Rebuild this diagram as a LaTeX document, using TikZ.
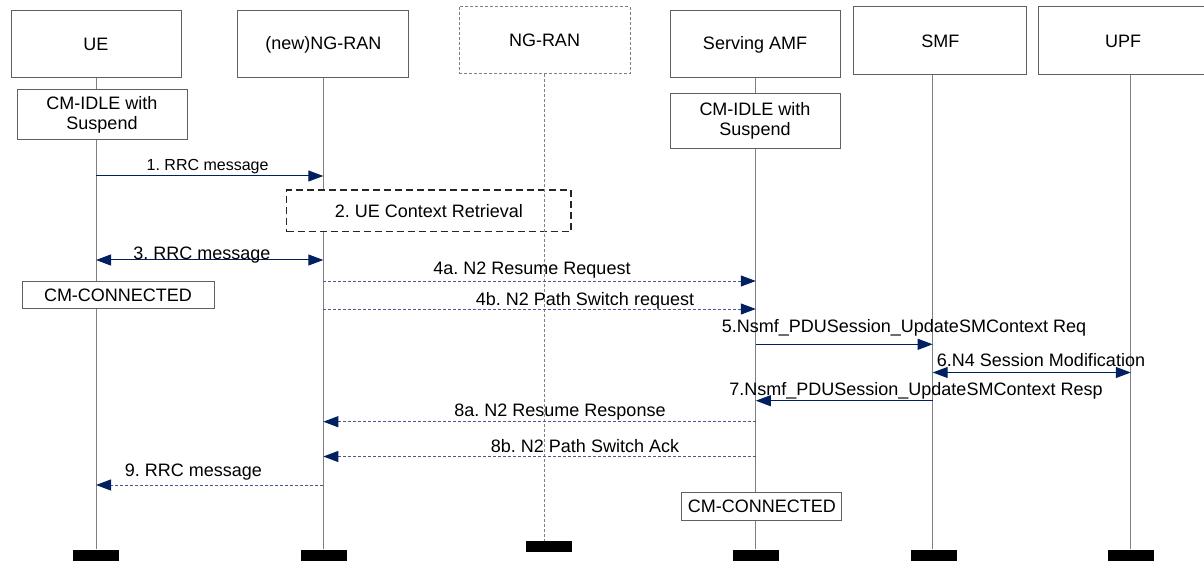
\documentclass[tikz,border=0pt]{standalone}
\usepackage{fontspec}
\setmainfont{Liberation Sans}
\usetikzlibrary{arrows.meta}
\definecolor{navy}{RGB}{0,32,96}
\definecolor{dnavy}{RGB}{70,90,140}
\definecolor{lgray}{RGB}{128,128,128}
\definecolor{bgray}{RGB}{96,96,96}
\frenchspacing
\begin{document}
\begin{tikzpicture}[x=1pt,y=-1pt,
  ent/.style={draw=bgray, line width=1pt, fill=white, inner sep=0pt, align=center,
    font=\fontsize{18}{20}\selectfont},
  life/.style={draw=lgray, line width=1pt},
  bar/.style={fill=black, inner sep=0pt, minimum width=46pt, minimum height=12pt},
  msg/.style={draw=navy, line width=1pt, -{Triangle[length=15pt,width=11pt]}},
  dmsg/.style={draw=dnavy, line width=1pt, dash pattern=on 3pt off 2pt, -{Triangle[length=15pt,width=11pt,color=navy]}},
  bmsg/.style={draw=navy, line width=1pt, {Triangle[length=15pt,width=11pt]}-{Triangle[length=15pt,width=11pt]}},
  lbl/.style={inner sep=0pt, anchor=base, font=\fontsize{18}{20}\selectfont}]
\useasboundingbox (0,0) rectangle (1204,561);
\clip (0,0) rectangle (1204,561);

% lifeline x positions
\coordinate (LUE) at (96,0);
\coordinate (LRAN) at (323.3,0);
\coordinate (LNG) at (544.5,0);
\coordinate (LAMF) at (755.8,0);
\coordinate (LSMF) at (932.7,0);
\coordinate (LUPF) at (1130.8,0);

% bottom bars
\node[bar] (bUE) at (96,555.5) {};
\node[bar] (bRAN) at (323.7,555.5) {};
\node[bar, minimum height=11.3pt] (bNG) at (549,546.7) {};
\node[bar] (bAMF) at (755.8,555.5) {};
\node[bar] (bSMF) at (933.5,555.5) {};
\node[bar] (bUPF) at (1131,555.5) {};

% header boxes
\node[ent, minimum width=170pt, minimum height=67pt] (UE) at (96,44.5) {UE};
\node[ent, minimum width=170.7pt, minimum height=67pt] (RAN) at (323.3,44.5) {(new)NG-RAN};
\node[ent, draw=lgray, dash pattern=on 3pt off 2pt, minimum width=171pt, minimum height=67.3pt] (NG) at (544.5,40.3) {NG-RAN};
\node[ent, minimum width=170pt, minimum height=67pt] (AMF) at (755,44.5) {Serving AMF};
\node[ent, minimum width=172.7pt, minimum height=68pt] (SMF) at (940.3,41) {SMF};
\node[ent, minimum width=170pt, minimum height=68pt] (UPF) at (1123,41) {UPF};

% lifelines
\draw[life] (LUE |- UE.south) -- (LUE |- bUE.north);
\draw[life] (LRAN |- RAN.south) -- (LRAN |- bRAN.north);
\draw[life] (LAMF |- AMF.south) -- (LAMF |- bAMF.north);
\draw[life] (LSMF |- SMF.south) -- (LSMF |- bSMF.north);
\draw[life] (LUPF |- UPF.south) -- (LUPF |- bUPF.north);

% state boxes
\node[ent, minimum width=170pt, minimum height=50pt] (idleUE) at (102,115) {CM-IDLE with\\Suspend};
\node[ent, minimum width=170pt, minimum height=55pt] (idleAMF) at (755,120.8) {CM-IDLE with\\Suspend};
\node[ent, minimum width=192pt, minimum height=27.5pt] (connUE) at (118,295.2) {CM-CONNECTED};
\node[ent, minimum width=160.3pt, minimum height=27.7pt] (connAMF) at (761.8,506.2) {CM-CONNECTED};

% step 2 box
\node[ent, draw=black!85, line width=1.5pt, dash pattern=on 7pt off 4pt, minimum width=284.3pt, minimum height=41.7pt] (ctx) at (428.8,210.8) {2. UE Context Retrieval};

% NG-RAN dashed lifeline
\draw[life, dash pattern=on 3pt off 2pt] (LNG |- NG.south) -- (LNG |- bNG.north);

% messages
\draw[msg] (LUE |- 0,176) -- (LRAN |- 0,176);
\node[lbl, font=\fontsize{16}{18}\selectfont] (m1) at (207.6,171) {1. RRC message};

\draw[bmsg] (LUE |- 0,260) -- (LRAN |- 0,260);
\node[lbl] (m3) at (202,259.5) {3. RRC message};

\draw[dmsg] (LRAN |- 0,281) -- (LAMF |- 0,281);
\node[lbl] (m4a) at (532,274.5) {4a. N2 Resume Request};

\draw[dmsg] (LRAN |- 0,309) -- (LAMF |- 0,309);
\node[lbl] (m4b) at (585,305.5) {4b. N2 Path Switch request};

\draw[msg] (LAMF |- 0,344.3) -- (LSMF |- 0,344.3);
\node[lbl] (m5) at (904,332.5) {5.Nsmf\_PDUSession\_UpdateSMContext Req};

\draw[bmsg] (LSMF |- 0,372.5) -- (LUPF |- 0,372.5);
\node[lbl] (m6) at (1041,366.5) {6.N4 Session Modification};

\draw[msg] (LSMF |- 0,400.7) -- (LAMF |- 0,400.7);
\node[lbl] (m7) at (916,395.5) {7.Nsmf\_PDUSession\_UpdateSMContext Resp};

\draw[dmsg] (LAMF |- 0,421.7) -- (LRAN |- 0,421.7);
\node[lbl] (m8a) at (560,416.5) {8a. N2 Resume Response};

\draw[dmsg] (LAMF |- 0,456.5) -- (LRAN |- 0,456.5);
\node[lbl] (m8b) at (585,452) {8b. N2 Path Switch Ack};

\draw[dmsg] (LRAN |- 0,485) -- (LUE |- 0,485);
\node[lbl] (m9) at (193.4,476.5) {9. RRC message};
\end{tikzpicture}
\end{document}
